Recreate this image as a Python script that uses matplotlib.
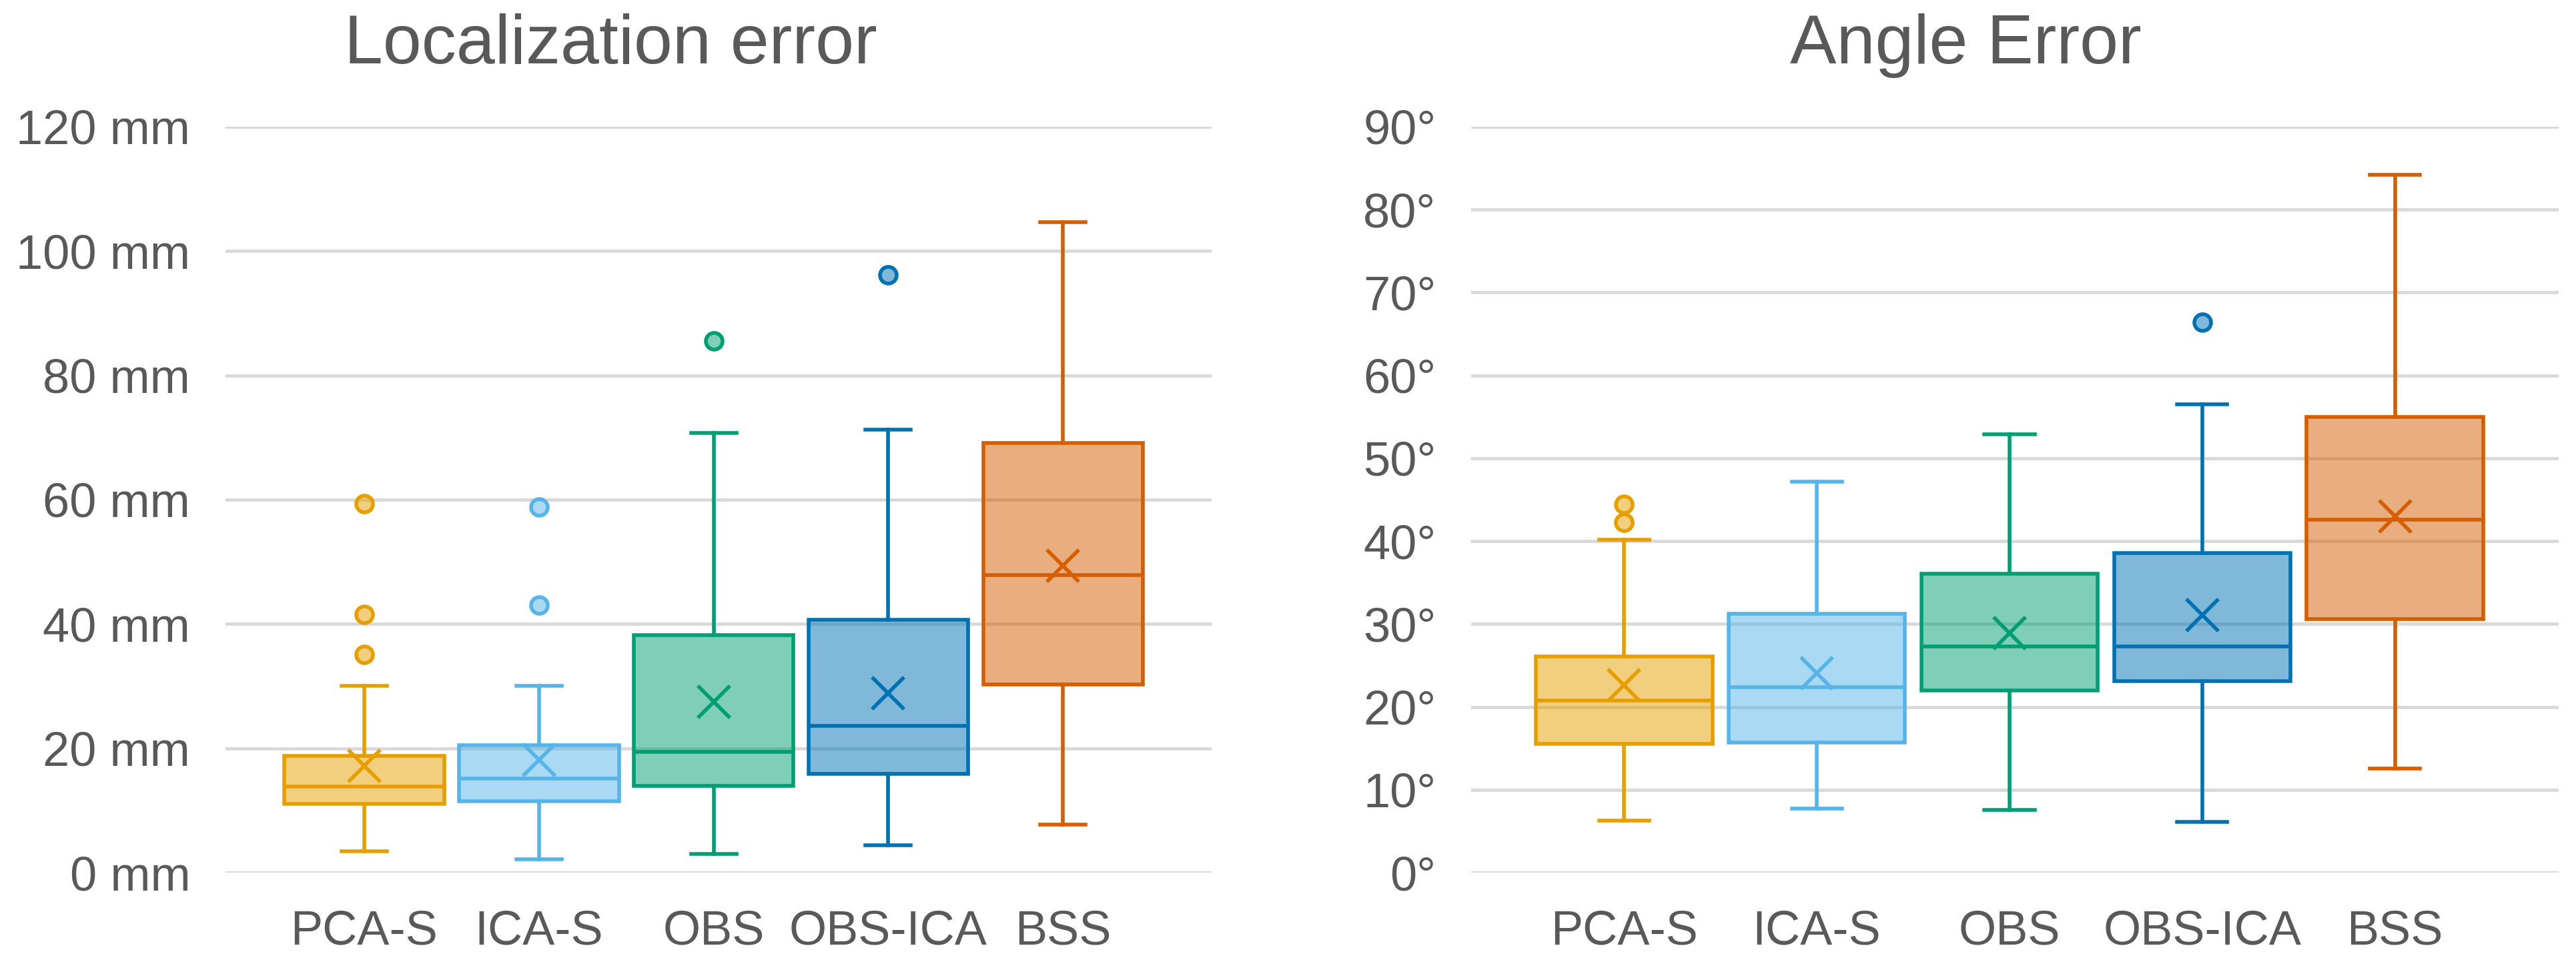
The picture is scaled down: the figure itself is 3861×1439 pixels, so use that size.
"""Box plots of localization and angle error per artefact-removal method."""

import matplotlib

matplotlib.use("Agg")
import matplotlib.pyplot as plt  # noqa: E402
from matplotlib.colors import to_rgba  # noqa: E402

methods = ["PCA-S", "ICA-S", "OBS", "OBS-ICA", "BSS"]
colors = ["#E69F00", "#56B4E9", "#009E73", "#0072B2", "#D55E00"]

# Localization error (mm)
loc_q1 = [11.1, 11.5, 14.0, 15.9, 30.3]
loc_med = [13.8, 15.1, 19.4, 23.6, 47.9]
loc_q3 = [18.8, 20.5, 38.2, 40.7, 69.1]
loc_lo = [3.4, 2.1, 3.0, 4.4, 7.7]
loc_hi = [30.1, 30.1, 70.7, 71.3, 104.7]
loc_mean = [17.2, 18.1, 27.5, 28.9, 49.4]
loc_fliers = [[59.4, 41.5, 35.1], [58.8, 43.0], [85.5], [96.2], []]
loc_ticks = [0, 20, 40, 60, 80, 100, 120]

# Angle error (degrees)
ang_q1 = [15.5, 15.7, 22.0, 23.1, 30.6]
ang_med = [20.8, 22.4, 27.3, 27.3, 42.6]
ang_q3 = [26.1, 31.2, 36.1, 38.6, 55.0]
ang_lo = [6.3, 7.7, 7.6, 6.1, 12.6]
ang_hi = [40.2, 47.2, 52.9, 56.5, 84.2]
ang_mean = [22.6, 24.1, 28.9, 31.1, 43.0]
ang_fliers = [[44.4, 42.3], [], [], [66.4], []]
ang_ticks = [0, 10, 20, 30, 40, 50, 60, 70, 80, 90]

TEXT = "#595959"
GRID = "#D9D9D9"
LW = 4

plt.rcParams.update(
    {
        "font.family": ["Liberation Sans", "DejaVu Sans"],
        "text.color": TEXT,
        "xtick.color": TEXT,
        "ytick.color": TEXT,
    }
)


def make_stats(q1, med, q3, lo, hi, mean, fliers):
    return [
        {"q1": a, "med": b, "q3": c, "whislo": d, "whishi": e, "mean": f, "fliers": g}
        for a, b, c, d, e, f, g in zip(q1, med, q3, lo, hi, mean, fliers)
    ]


def draw(ax, stats, ticks, fmt):
    pos = list(range(1, len(methods) + 1))
    art = ax.bxp(
        stats,
        positions=pos,
        widths=0.915,
        capwidths=0.26,
        patch_artist=True,
        showmeans=True,
        manage_ticks=False,
    )
    for i, c in enumerate(colors):
        light = to_rgba(c, 0.5)
        art["boxes"][i].set(facecolor=light, edgecolor=c, linewidth=LW, zorder=3)
        art["medians"][i].set(color=c, linewidth=LW, zorder=4)
        for ln in art["whiskers"][2 * i:2 * i + 2] + art["caps"][2 * i:2 * i + 2]:
            ln.set(color=c, linewidth=LW, zorder=3)
        art["means"][i].set(marker="x", markersize=34, markeredgewidth=LW,
                            markeredgecolor=c, zorder=5)
        art["fliers"][i].set(marker="o", markersize=18, markeredgewidth=LW,
                             markerfacecolor=light, markeredgecolor=c, zorder=5)

    ax.set_xlim(0.206, 5.85)
    ax.set_ylim(ticks[0], ticks[-1])
    ax.set_xticks(pos)
    ax.set_xticklabels(methods, fontsize=52)
    ax.set_yticks(ticks)
    ax.set_yticklabels([fmt.format(t) for t in ticks], fontsize=52)
    ax.tick_params(axis="x", length=0, pad=40)
    ax.tick_params(axis="y", length=0, pad=38)
    for s in ax.spines.values():
        s.set_visible(False)
    ax.set_axisbelow(True)
    ax.yaxis.grid(True, color=GRID, linewidth=3.5)
    ax.xaxis.grid(False)


fig = plt.figure(figsize=(38.62, 14.39), dpi=100)
fig.patch.set_facecolor("white")

ax1 = fig.add_axes([0.0875, 0.091, 0.3827, 0.777])
draw(ax1, make_stats(loc_q1, loc_med, loc_q3, loc_lo, loc_hi, loc_mean, loc_fliers),
     loc_ticks, "{} mm")

ax2 = fig.add_axes([0.571, 0.091, 0.422, 0.777])
draw(ax2, make_stats(ang_q1, ang_med, ang_q3, ang_lo, ang_hi, ang_mean, ang_fliers),
     ang_ticks, "{}°")

fig.text(0.2369, 1 - 95 / 1439, "Localization error", ha="center", va="baseline",
         fontsize=75, color=TEXT)
fig.text(0.763, 1 - 95 / 1439, "Angle Error", ha="center", va="baseline",
         fontsize=75, color=TEXT)

fig.savefig("out.png", dpi=100, facecolor="white")
